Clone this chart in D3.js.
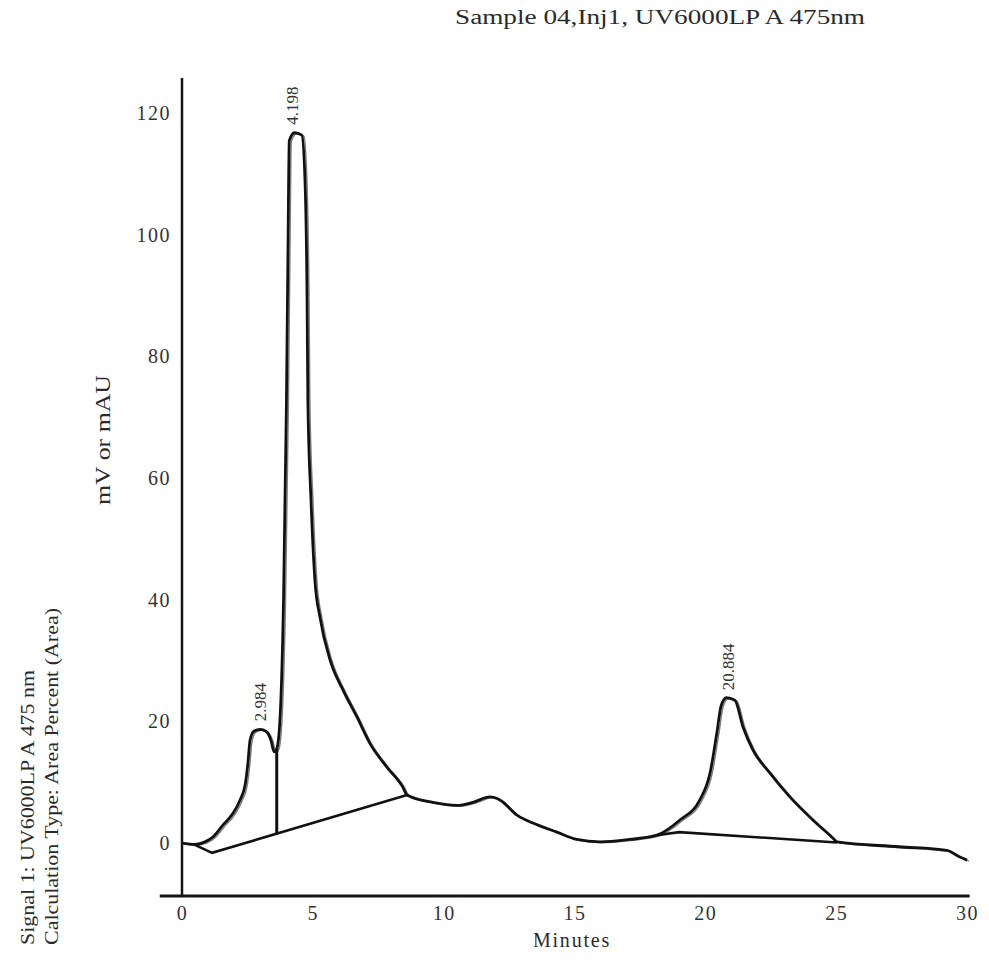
<!DOCTYPE html>
<html>
<head>
<meta charset="utf-8">
<script src="https://cdn.jsdelivr.net/npm/d3@7"></script>
<style>
  body { margin: 0; background: #fff; }
  svg text { font-family: "Liberation Serif", "DejaVu Serif", serif; fill: #2a2a2a; }
</style>
</head>
<body>
<svg width="989" height="970"></svg>
<script>
const width = 989;
const height = 970;

// chromatogram trace (minutes, mV)
const traceTime = [0.00, 0.50, 0.88, 1.18, 1.57, 1.95, 2.22, 2.41, 2.52, 2.60, 2.75, 2.98, 3.21, 3.40, 3.52, 3.62,
  3.74, 3.88, 3.99, 4.05, 4.10, 4.30, 4.58, 4.70, 4.78, 4.81, 4.93, 5.08, 5.27, 5.66, 6.15, 6.69, 7.18, 7.83,
  8.44, 8.60, 9.59, 10.51, 11.12, 11.77, 12.15, 12.80, 13.41, 14.33, 15.09, 15.97, 17.10, 18.15, 19.03, 19.79,
  20.18, 20.44, 20.60, 20.80, 21.13, 21.44, 21.82, 22.47, 23.23, 24.11, 24.88, 25.03, 27.40, 29.23, 29.73, 30.00];
const traceSignal = [0.0, -0.2, 0.2, 1.0, 3.0, 4.9, 7.1, 9.5, 13.2, 16.9, 18.4, 18.7, 18.4, 16.9, 15.0, 15.5,
  20.0, 40.0, 72.0, 97.5, 115.5, 116.8, 116.4, 109.0, 89.3, 72.8, 56.4, 43.2, 37.2, 30.1, 25.2, 20.7, 16.4, 12.5,
  9.2, 7.9, 6.7, 6.2, 6.7, 7.6, 7.1, 4.6, 3.3, 1.8, 0.6, 0.2, 0.6, 1.3, 3.8, 7.1,
  11.5, 18.1, 22.5, 23.9, 23.5, 19.1, 15.3, 11.5, 7.6, 3.8, 0.8, 0.2, -0.6, -1.2, -2.3, -2.8];

// integration baselines
const base1Time = [0.45, 1.15, 8.60];
const base1Signal = [-0.2, -1.6, 7.9];
const base2Time = [18.15, 19.0, 25.03];
const base2Signal = [1.3, 1.8, 0.1];
const dropTime = 3.62;
const dropTop = 15.5;

// peak labels
const peakTimes = [2.984, 4.198, 20.884];
const peakTops = [18.7, 116.8, 23.8];

const xTicks = [0, 5, 10, 15, 20, 25, 30];
const yTicks = [0, 20, 40, 60, 80, 100, 120];

const svg = d3.select("svg");

const x = d3.scaleLinear().domain([0, 30]).range([182, 967]);
const y = d3.scaleLinear().domain([-8.7, 125.8]).range([896, 78]);

// axes lines
svg.append("line")
    .attr("x1", x(0)).attr("x2", x(0))
    .attr("y1", y(125.8)).attr("y2", y(-8.7))
    .style("stroke", "#151515").style("stroke-width", 2.5);
svg.append("line")
    .attr("x1", x(-0.85)).attr("x2", x(30.1))
    .attr("y1", y(-8.7)).attr("y2", y(-8.7))
    .style("stroke", "#151515").style("stroke-width", 3);

// tick labels
const yAxis = svg.append("g")
    .attr("transform", `translate(${x(0) - 1},0)`)
    .call(d3.axisLeft(y).tickValues(yTicks).tickSize(0).tickPadding(10));
yAxis.select(".domain").remove();
yAxis.selectAll("text")
    .style("font-size", "20px")
    .style("letter-spacing", "1.5px")
    .style("fill", "#333");

const xAxis = svg.append("g")
    .attr("transform", `translate(0,${y(-8.7)})`)
    .call(d3.axisBottom(x).tickValues(xTicks).tickSize(0).tickPadding(10));
xAxis.select(".domain").remove();
xAxis.selectAll("text")
    .style("font-size", "20px")
    .style("letter-spacing", "1.5px")
    .style("fill", "#333");

// axis titles
svg.append("text")
    .attr("x", 572).attr("y", 947)
    .attr("text-anchor", "middle")
    .style("font-size", "20px")
    .style("letter-spacing", "1.8px")
    .text("Minutes");

svg.append("text")
    .attr("transform", "translate(110,440) rotate(-90)")
    .attr("text-anchor", "middle")
    .attr("textLength", 130)
    .attr("lengthAdjust", "spacingAndGlyphs")
    .style("font-size", "20px")
    .text("mV or mAU");

svg.append("text")
    .attr("transform", "translate(34,945) rotate(-90)")
    .attr("textLength", 275)
    .attr("lengthAdjust", "spacingAndGlyphs")
    .style("font-size", "19px")
    .text("Signal 1: UV6000LP A 475 nm");

svg.append("text")
    .attr("transform", "translate(58,945) rotate(-90)")
    .attr("textLength", 337)
    .attr("lengthAdjust", "spacingAndGlyphs")
    .style("font-size", "19px")
    .text("Calculation Type: Area Percent (Area)");

svg.append("text")
    .attr("x", 455).attr("y", 24)
    .attr("textLength", 410)
    .attr("lengthAdjust", "spacingAndGlyphs")
    .style("font-size", "20px")
    .text("Sample 04,Inj1, UV6000LP A 475nm");

// trace
const trace = traceTime.map((t, i) => [t, traceSignal[i]]);
const line = d3.line()
    .x(d => x(d[0]))
    .y(d => y(d[1]))
    .curve(d3.curveMonotoneX);

// the scan shows the trace gone over twice, so a faint second stroke
svg.append("path")
    .datum(trace)
    .attr("d", line)
    .attr("transform", "translate(2,1)")
    .style("fill", "none")
    .style("stroke", "#444")
    .style("stroke-width", 1.4)
    .style("opacity", 0.7);

svg.append("path")
    .datum(trace)
    .attr("d", line)
    .style("fill", "none")
    .style("stroke", "#111")
    .style("stroke-width", 2.8)
    .style("stroke-linejoin", "round");

// baselines
const straight = d3.line().x(d => x(d[0])).y(d => y(d[1]));
[[base1Time, base1Signal], [base2Time, base2Signal]].forEach(([ts, vs]) => {
    svg.append("path")
        .datum(ts.map((t, i) => [t, vs[i]]))
        .attr("d", straight)
        .style("fill", "none")
        .style("stroke", "#111")
        .style("stroke-width", 2.6);
});

// drop line between the first two peaks
const baseAtDrop = d3.scaleLinear().domain([base1Time[1], base1Time[2]]).range([base1Signal[1], base1Signal[2]]);
svg.append("line")
    .attr("x1", x(dropTime)).attr("x2", x(dropTime))
    .attr("y1", y(baseAtDrop(dropTime))).attr("y2", y(dropTop))
    .style("stroke", "#111")
    .style("stroke-width", 3);

// retention time labels
svg.selectAll(".rt")
    .data(peakTimes)
    .enter().append("text")
    .attr("class", "rt")
    .attr("transform", (d, i) => `translate(${x(d) + 6},${y(peakTops[i]) - 8}) rotate(-90)`)
    .style("font-size", "17px")
    .style("fill", "#333")
    .text(d => d3.format(".3f")(d));
</script>
</body>
</html>
